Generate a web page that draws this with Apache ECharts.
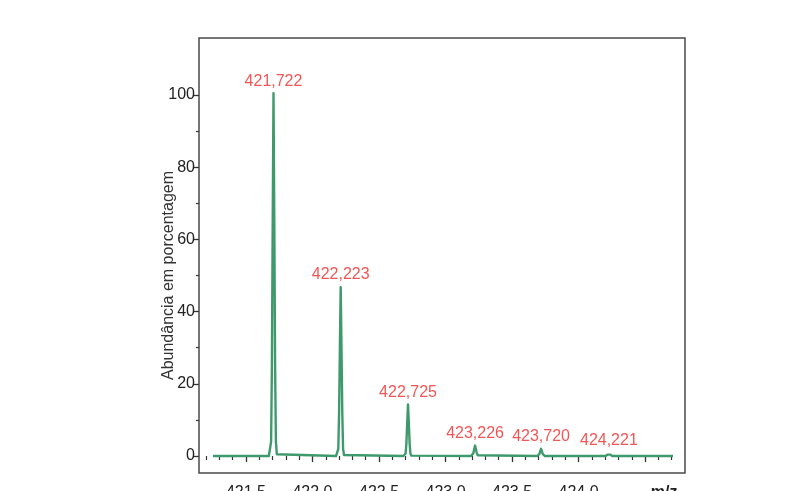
<!DOCTYPE html>
<html><head><meta charset="utf-8">
<script src="https://cdn.jsdelivr.net/npm/echarts@6/dist/echarts.min.js"></script>
<style>html,body{margin:0;padding:0;background:#fff;}#c{width:805px;height:491px;}</style>
</head><body><div id="c"></div>
<script>
// Peak centres (m/z as drawn), peak heights (%), and peak labels
const peakMz = [421.707, 422.212, 422.718, 423.222, 423.718, 424.228];
const peakAbund = [100.5, 46.8, 14.3, 2.9, 2.0, 0.95];
const peakLabels = ['421,722', '422,223', '422,725', '423,226', '423,720', '424,221'];

// Profile trace: [m/z, abundance %]
const profile = [
  [421.252, 0],
  [421.672, 0], [421.682, 0.5], [421.689, 4], [421.695, 25], [421.701, 65], [421.707, 100.5],
  [421.713, 65], [421.719, 25], [421.725, 4], [421.732, 0.5], [421.742, 0],
  [422.177, 0], [422.187, 0.3], [422.194, 2], [422.200, 12], [422.206, 30], [422.212, 46.8],
  [422.218, 30], [422.224, 12], [422.230, 2], [422.237, 0.3], [422.247, 0],
  [422.683, 0], [422.693, 0.1], [422.700, 0.7], [422.706, 3.6], [422.712, 9.3], [422.718, 14.3],
  [422.724, 9.3], [422.730, 3.6], [422.736, 0.7], [422.743, 0.1], [422.753, 0],
  [423.192, 0], [423.202, 0.2], [423.209, 0.8], [423.215, 1.8], [423.222, 2.9],
  [423.229, 1.8], [423.235, 0.8], [423.242, 0.2], [423.252, 0],
  [423.688, 0], [423.698, 0.15], [423.705, 0.55], [423.711, 1.25], [423.718, 2.0],
  [423.725, 1.25], [423.731, 0.55], [423.738, 0.15], [423.748, 0],
  [424.203, 0], [424.212, 0.1], [424.219, 0.4], [424.228, 0.95],
  [424.237, 0.4], [424.244, 0.1], [424.253, 0],
  [424.710, 0]
];

// Axis ticks and labels
const xMajorTicks = [421.5, 422.0, 422.5, 423.0, 423.5, 424.0, 424.5];
const xMinorTicks = [421.2, 421.3, 421.4, 421.6, 421.7, 421.8, 421.9, 422.1, 422.2, 422.3, 422.4,
  422.6, 422.7, 422.8, 422.9, 423.1, 423.2, 423.3, 423.4, 423.6, 423.7, 423.8, 423.9,
  424.1, 424.2, 424.3, 424.4, 424.6, 424.7];
const xLabelValues = [421.5, 422.0, 422.5, 423.0, 423.5, 424.0, 424.5];
const yMajorTicks = [0, 20, 40, 60, 80, 100];
const yMinorTicks = [10, 30, 50, 70, 90];
const xAxisName = 'm/z';
const yAxisName = 'Abundância em porcentagem';

const FONT = "'Liberation Sans', Arial, sans-serif";
const X_MIN = 421.147, X_MAX = 424.80, Y_MIN = -4.7, Y_MAX = 115.8;

const chart = echarts.init(document.getElementById('c'), null, {renderer: 'canvas'});
const baseX = {
  type: 'value', min: X_MIN, max: X_MAX,
  axisLine: {show: false}, splitLine: {show: false}
};
const baseY = {
  type: 'value', min: Y_MIN, max: Y_MAX,
  axisLine: {show: false}, splitLine: {show: false}
};
chart.setOption({
  backgroundColor: '#fff',
  animation: false,
  grid: {left: 199, right: 120, top: 38, bottom: 18, containLabel: false, outerBoundsMode: 'none',
         show: true, borderColor: '#4a4a4a', borderWidth: 1.5, backgroundColor: 'transparent'},
  xAxis: [
    Object.assign({}, baseX, {
      position: 'bottom',
      axisTick: {show: true, inside: false, length: 6, customValues: xMajorTicks, lineStyle: {color: '#333', width: 1.3}},
      axisLabel: {
        show: true, customValues: xLabelValues, margin: 12, color: '#222', fontSize: 16, fontFamily: FONT,
        hideOverlap: false,
        formatter: v => (Math.abs(v - 424.5) < 1e-6 ? '{b|' + xAxisName + '}' : v.toFixed(1)),
        rich: {b: {fontWeight: 'bold', fontSize: 16, fontFamily: FONT, color: '#222', padding: [0, 0, 0, 38]}}
      }
    }),
    Object.assign({}, baseX, {
      position: 'bottom',
      axisTick: {show: true, inside: false, length: 4, customValues: xMinorTicks, lineStyle: {color: '#333', width: 1.2}},
      axisLabel: {show: false}
    })
  ],
  yAxis: [
    Object.assign({}, baseY, {
      position: 'left',
      name: yAxisName, nameLocation: 'middle', nameGap: 22, nameRotate: 90, nameMoveOverlap: false,
      nameTextStyle: {fontSize: 16, fontFamily: FONT, color: '#333', padding: [0, 40, 0, 0]},
      axisTick: {show: true, inside: false, length: 6, customValues: yMajorTicks, lineStyle: {color: '#333', width: 1.3}},
      axisLabel: {show: true, customValues: yMajorTicks, margin: 4, color: '#222', fontSize: 16, fontFamily: FONT}
    }),
    Object.assign({}, baseY, {
      position: 'left',
      axisTick: {show: true, inside: false, length: 3, customValues: yMinorTicks, lineStyle: {color: '#333', width: 1.2}},
      axisLabel: {show: false}
    })
  ],
  series: [
    {
      type: 'line', xAxisIndex: 0, yAxisIndex: 0, data: profile, showSymbol: false, symbol: 'none',
      lineStyle: {color: '#3e9a6c', width: 2.4, join: 'round'}, z: 2
    },
    {
      type: 'scatter', xAxisIndex: 0, yAxisIndex: 0, symbolSize: 0,
      data: peakMz.map((m, i) => ({value: [m, peakAbund[i]], name: peakLabels[i]})),
      label: {show: true, position: 'top', distance: 4, color: '#ee2a2a', fontSize: 16, fontFamily: FONT, formatter: p => p.name},
      z: 3
    }
  ]
});
</script></body></html>
